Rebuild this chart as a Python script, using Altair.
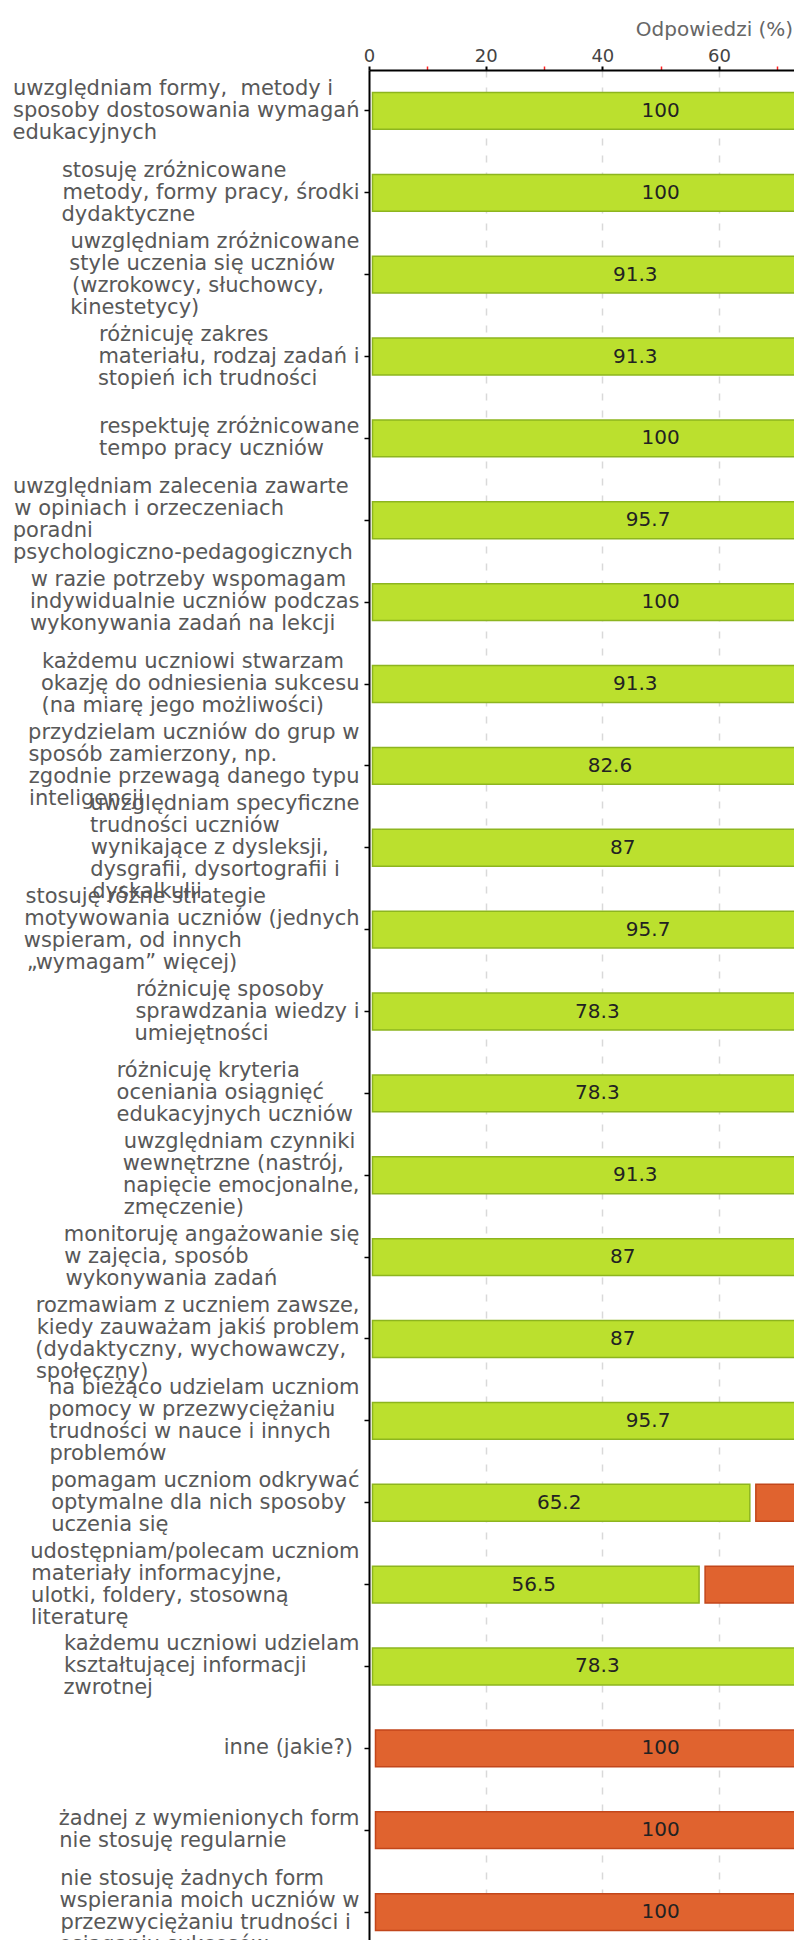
import altair as alt
import pandas as pd

label_lines = [
    ["uwzględniam formy,\u00a0 metody i", "sposoby dostosowania wymagań", "edukacyjnych"],
    ["stosuję zróżnicowane", "metody, formy pracy, środki", "dydaktyczne"],
    ["uwzględniam zróżnicowane", "style uczenia się uczniów", "(wzrokowcy, słuchowcy,", "kinestetycy)"],
    ["różnicuję zakres", "materiału, rodzaj zadań i", "stopień ich trudności"],
    ["respektuję zróżnicowane", "tempo pracy uczniów"],
    ["uwzględniam zalecenia zawarte", "w opiniach i orzeczeniach", "poradni", "psychologiczno-pedagogicznych\u00a0"],
    ["w razie potrzeby wspomagam", "indywidualnie uczniów podczas", "wykonywania zadań na lekcji"],
    ["każdemu uczniowi stwarzam", "okazję do odniesienia sukcesu", "(na miarę jego możliwości)"],
    ["przydzielam uczniów do grup w", "sposób zamierzony, np.", "zgodnie przewagą danego typu", "inteligencji"],
    ["uwzględniam specyficzne", "trudności uczniów", "wynikające z dysleksji,", "dysgrafii, dysortografii i", "dyskalkulii"],
    ["stosuję różne strategie", "motywowania uczniów (jednych", "wspieram, od innych", "„wymagam” więcej)"],
    ["różnicuję sposoby", "sprawdzania wiedzy i", "umiejętności"],
    ["różnicuję kryteria", "oceniania osiągnięć", "edukacyjnych uczniów\u00a0"],
    ["uwzględniam czynniki", "wewnętrzne (nastrój,", "napięcie emocjonalne,", "zmęczenie)"],
    ["monitoruję angażowanie się", "w zajęcia, sposób", "wykonywania zadań"],
    ["rozmawiam z uczniem zawsze,", "kiedy zauważam jakiś problem", "(dydaktyczny, wychowawczy,", "społeczny)"],
    ["na bieżąco udzielam uczniom", "pomocy w przezwyciężaniu", "trudności w nauce i innych", "problemów"],
    ["pomagam uczniom odkrywać", "optymalne dla nich sposoby", "uczenia się"],
    ["udostępniam/polecam uczniom", "materiały informacyjne,", "ulotki, foldery, stosowną", "literaturę"],
    ["każdemu uczniowi udzielam", "kształtującej informacji", "zwrotnej"],
    ["inne (jakie?)\u00a0"],
    ["żadnej z wymienionych form", "nie stosuję regularnie"],
    ["nie stosuję żadnych form", "wspierania moich uczniów w", "przezwyciężaniu trudności i", "osiąganiu sukcesów"],
]

green_values = [100, 100, 91.3, 91.3, 100, 95.7, 100, 91.3, 82.6, 87, 95.7, 78.3,
                78.3, 91.3, 87, 87, 95.7, 65.2, 56.5, 78.3, 0, 0, 0]
orange_values = [0, 0, 8.7, 8.7, 0, 4.3, 0, 8.7, 17.4, 13, 4.3, 21.7,
                 21.7, 8.7, 13, 13, 4.3, 34.8, 43.5, 21.7, 100, 100, 100]

x_tick_values = [0, 10, 20, 30, 40, 50, 60, 70, 80, 90, 100, 110, 120]

# DejaVu Sans advance widths (units per em = 2048), used to left-align the
# lines of each label inside a right-aligned block (padding with no-break and
# hair spaces, closed by a zero-width space so the padding is not trimmed away)
ADV = {
    " ": 651, "\u00a0": 651, "\u200a": 205, "\u200b": 0, "(": 799, ")": 799, ",": 651, "-": 739,
    ".": 651, "/": 690, "?": 1087, "a": 1255, "b": 1300, "c": 1126, "d": 1300, "e": 1260, "f": 721,
    "g": 1300, "h": 1298, "i": 569, "j": 569, "k": 1186, "l": 569, "m": 1995, "n": 1298, "o": 1253,
    "p": 1300, "r": 842, "s": 1067, "t": 803, "u": 1298, "v": 1212, "w": 1675, "x": 1212, "y": 1212,
    "z": 1075, "ą": 1255, "ć": 1126, "ę": 1260, "ł": 590, "ń": 1298, "ó": 1253, "ś": 1067,
    "ź": 1075, "ż": 1075, "„": 1063, "”": 1063,
}


def text_width(s):
    return sum(ADV.get(ch, 1200) for ch in s)


def pad(line, widest):
    gap = widest - text_width(line)
    n_nb = int(gap // 651)
    n_hair = round((gap - n_nb * 651) / 205)
    return line + "\u00a0" * n_nb + "\u200a" * n_hair + "\u200b"


def block(lines):
    widest = max(text_width(l) for l in lines)
    return "|".join(pad(l, widest) for l in lines)


categories = [block(l) for l in label_lines]

rows = []
for cat, g, o in zip(categories, green_values, orange_values):
    rows.append({"cat": cat, "series": "tak", "start": 0, "end": g, "value": g})
    rows.append({"cat": cat, "series": "nie", "start": g, "end": g + o, "value": o})
df = pd.DataFrame(rows)
df["mid"] = (df["start"] + df["end"]) / 2
df["txt"] = df["value"].map(lambda v: f"{v:g}")

LINE_H = 22
major = "datum.value % 20 === 0"
x_axis = alt.Axis(
    orient="top", values=x_tick_values, title="Odpowiedzi (%)",
    titleFont="DejaVu Sans", titleFontSize=20, titleFontWeight="normal", titleColor="#666666",
    titleX=345, titleAlign="center", titlePadding=8,
    labelExpr=f"{major} ? datum.label : ''", labelFont="DejaVu Sans", labelFontSize=18,
    labelColor="#444444", labelPadding=1, labelFlush=False,
    tickColor={"condition": {"test": major, "value": "#000000"}, "value": "#ff2020"},
    tickSize=4,
    tickWidth={"condition": {"test": major, "value": 2}, "value": 1.5},
    grid=True, gridColor="#d9d9d9", gridDash=[7, 10], gridWidth=1.5,
    gridOpacity={"condition": {"test": f"{major} && datum.value > 0", "value": 1}, "value": 0},
    domainColor="#000000", domainWidth=2,
)
x_scale = alt.Scale(domain=[0, 120], range=[0, 700], nice=False)

y_axis = alt.Axis(
    title=None, labelExpr="split(datum.label, '|')", labelFont="DejaVu Sans", labelFontSize=21,
    labelLineHeight=LINE_H, labelColor="#585858", labelLimit=0, labelPadding=5, labelOverlap=False,
    labelOffset={"expr": f"-(length(split(datum.label, '|')) - 1) * {LINE_H / 2}"},
    tickSize=5, tickColor="#000000", tickWidth=1.5, domainColor="#000000", domainWidth=2, grid=False,
)
y_enc = alt.Y("cat:N", sort=categories, axis=y_axis,
              scale=alt.Scale(range=[0, 1883], paddingInner=0.55, paddingOuter=0.275))

base = alt.Chart(df)

green_bars = base.transform_filter("datum.series == 'tak' && datum.value > 0").mark_bar(
    fill="#bbe02e", stroke="#8db51f", strokeWidth=1.5, xOffset=3.5, x2Offset=0.5
).encode(x=alt.X("start:Q", scale=x_scale, axis=x_axis), x2="end:Q", y=y_enc)

orange_bars = base.transform_filter("datum.series == 'nie' && datum.value > 0").mark_bar(
    fill="#e0632f", stroke="#c2461b", strokeWidth=1.5, xOffset=6.5, x2Offset=0.5
).encode(x=alt.X("start:Q", scale=x_scale, axis=x_axis), x2="end:Q", y=y_enc)

value_labels = base.transform_filter("datum.value > 0").mark_text(
    font="DejaVu Sans", fontSize=20, color="#222222"
).encode(x=alt.X("mid:Q", scale=x_scale, axis=x_axis), y=y_enc, text="txt:N")

chart = alt.layer(green_bars, orange_bars, value_labels).properties(
    width=425, height=1870,
    autosize=alt.AutoSizeParams(type="none"),
    padding={"left": 361, "top": 62, "right": 0, "bottom": 0},
).configure_view(stroke=None)

chart.save("out.html", embed_options={"renderer": "svg", "actions": False})
